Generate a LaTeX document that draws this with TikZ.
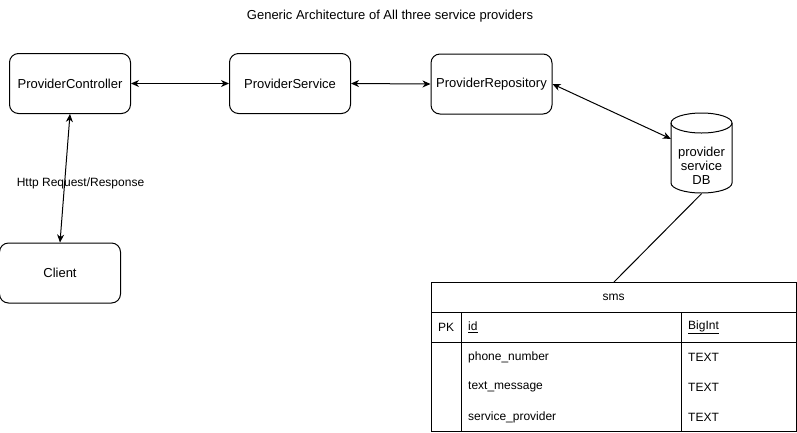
\documentclass[tikz,border=0pt]{standalone}
\usepackage{fontspec}
\setmainfont{Liberation Sans}
\usetikzlibrary{arrows.meta}
\begin{document}
\begin{tikzpicture}[x=1pt,y=-1pt,
  every node/.style={font=\fontsize{12}{14}\selectfont},
  comp/.style={draw, line width=1pt, rounded corners=9pt, minimum width=121pt, minimum height=60pt, inner sep=0pt, font=\fontsize{13}{15}\selectfont},
  conn/.style={line width=1pt, {Stealth[length=8pt,width=7pt,inset=2.5pt]}-{Stealth[length=8pt,width=7pt,inset=2.5pt]}},
  plain/.style={line width=1pt},
  cell/.style={anchor=west, inner sep=0pt}
]
\useasboundingbox (0,0) rectangle (797,432);
\fill[white] (0,0) rectangle (797,432);

\node[font=\fontsize{13}{15}\selectfont] (title) at (390,16) {Generic Architecture of All three service providers};

\node[comp] (ctrl) at (70,83.5) {ProviderController};
\node[comp] (svc) at (290,83.5) {ProviderService};
\node[comp] (repo) at (491.5,84) {ProviderRepository};
\node[comp] (client) at (60,273) {Client};

% database cylinder
\node[minimum width=61pt, minimum height=81pt, inner sep=0pt] (db) at (701.5,153) {};
\draw[line width=1pt, fill=white] (671,123) -- (671,183) arc[start angle=180, end angle=0, x radius=30.5, y radius=10] -- (732,123) arc[start angle=0, end angle=-180, x radius=30.5, y radius=10] -- cycle;
\draw[line width=1pt] (671,123) arc[start angle=180, end angle=0, x radius=30.5, y radius=10];
\node[align=center, inner sep=0pt, font=\fontsize{13}{14}\selectfont] (dblabel) at (701.5,166) {provider\\service\\DB};

% table
\node[draw, line width=1pt, minimum width=365pt, minimum height=149pt, inner sep=0pt, anchor=north west] (tbl) at (431,282) {};
\draw[plain] (431,312) -- (796,312);
\draw[plain] (431,342) -- (796,342);
\draw[plain] (461,312) -- (461,431);
\draw[plain] (681,312) -- (681,431);
\node (tname) at (613.5,297) {sms};
\node (pk) at (446,327) {PK};
\node[cell] (fid) at (468,327) {\underline{id}};
\node[cell] (tid) at (688,327) {\underline{BigInt}};
\node[cell] (f1) at (468,357) {phone\_number};
\node[cell] (t1) at (688,357) {TEXT};
\node[cell] (f2) at (468,387) {text\_message};
\node[cell] (t2) at (688,387) {TEXT};
\node[cell] (f3) at (468,417) {service\_provider};
\node[cell] (t3) at (688,417) {TEXT};

% connectors
\draw[conn] (ctrl.east) -- (svc.west);
\draw[conn] (svc.east) -- (repo.west);
\draw[conn] (repo.east) -- (db);
\draw[conn] (ctrl.south) -- (client.north);
\draw[plain] (db.south) -- (tbl.north);

\node (http) at (80.5,183) {Http Request/Response};
\end{tikzpicture}
\end{document}
